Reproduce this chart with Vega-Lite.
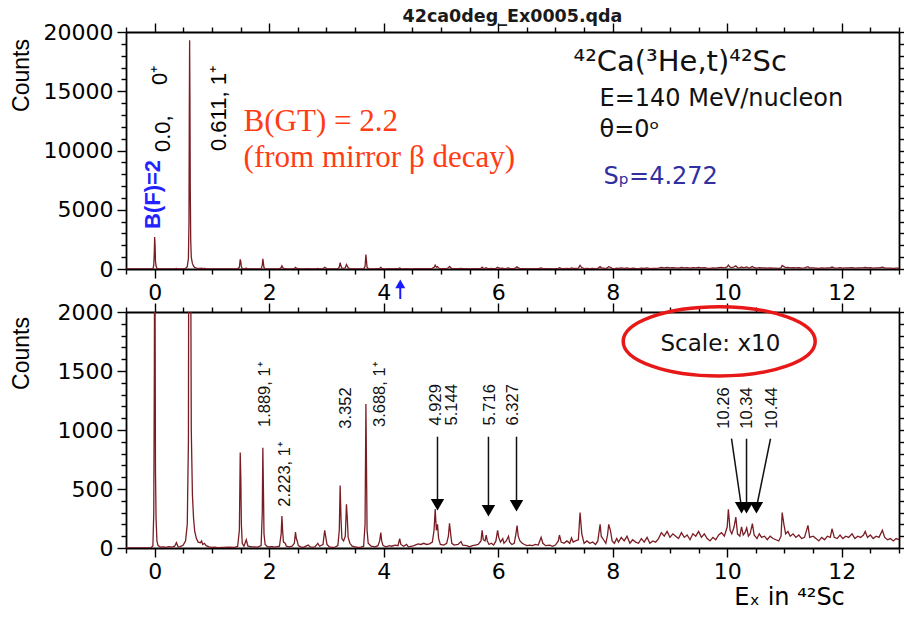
{
"$schema":"https://vega.github.io/schema/vega-lite/v6.json",
"background":"white",
"padding":{"left":10,"top":7,"right":0,"bottom":0},
"config":{"view":{"stroke":null},"axis":{"grid":false,"domainColor":"black","tickColor":"black","labelColor":"black","domainWidth":1.8,"tickWidth":1.4,"labelFont":"DejaVu Sans","labelFontSize":22,"labelOverlap":false,"labelFlush":false,"labelBound":false}},
"spacing":43,
"bounds":"flush",
"datasets":{
"spectrum":[
{"ex":-0.5,"counts":0},{"ex":-0.1,"counts":0},{"ex":-0.06,"counts":2},{"ex":-0.03,"counts":20},{"ex":-0.015,"counts":300},{"ex":-0.005,"counts":1500},{"ex":0,"counts":2700},{"ex":0.008,"counts":2000},{"ex":0.015,"counts":650},{"ex":0.025,"counts":250},{"ex":0.04,"counts":60},{"ex":0.06,"counts":20},{"ex":0.1,"counts":8},{"ex":0.15,"counts":10},{"ex":0.2,"counts":5},{"ex":0.25,"counts":12},{"ex":0.3,"counts":8},{"ex":0.35,"counts":15},{"ex":0.38,"counts":45},{"ex":0.41,"counts":10},{"ex":0.45,"counts":12},{"ex":0.5,"counts":25},{"ex":0.54,"counts":60},{"ex":0.57,"counts":200},{"ex":0.59,"counts":900},{"ex":0.6,"counts":4000},{"ex":0.605,"counts":12000},{"ex":0.611,"counts":19300},{"ex":0.617,"counts":14000},{"ex":0.622,"counts":7000},{"ex":0.63,"counts":2500},{"ex":0.64,"counts":1000},{"ex":0.66,"counts":450},{"ex":0.68,"counts":250},{"ex":0.7,"counts":140},{"ex":0.73,"counts":80},{"ex":0.76,"counts":50},{"ex":0.8,"counts":45},{"ex":0.82,"counts":60},{"ex":0.84,"counts":30},{"ex":0.87,"counts":40},{"ex":0.9,"counts":20},{"ex":0.95,"counts":10},{"ex":1.0,"counts":5},{"ex":1.05,"counts":8},{"ex":1.1,"counts":3},{"ex":1.2,"counts":5},{"ex":1.3,"counts":8},{"ex":1.4,"counts":5},{"ex":1.45,"counts":15},{"ex":1.48,"counts":150},{"ex":1.495,"counts":810},{"ex":1.505,"counts":600},{"ex":1.515,"counts":200},{"ex":1.53,"counts":40},{"ex":1.56,"counts":15},{"ex":1.6,"counts":70},{"ex":1.63,"counts":15},{"ex":1.7,"counts":10},{"ex":1.8,"counts":8},{"ex":1.86,"counts":20},{"ex":1.88,"counts":300},{"ex":1.89,"counts":850},{"ex":1.9,"counts":500},{"ex":1.91,"counts":120},{"ex":1.93,"counts":30},{"ex":1.97,"counts":10},{"ex":2.05,"counts":12},{"ex":2.1,"counts":8},{"ex":2.18,"counts":15},{"ex":2.21,"counts":120},{"ex":2.223,"counts":270},{"ex":2.235,"counts":150},{"ex":2.25,"counts":50},{"ex":2.28,"counts":40},{"ex":2.3,"counts":15},{"ex":2.35,"counts":10},{"ex":2.4,"counts":15},{"ex":2.44,"counts":40},{"ex":2.46,"counts":135},{"ex":2.475,"counts":80},{"ex":2.49,"counts":60},{"ex":2.51,"counts":20},{"ex":2.55,"counts":10},{"ex":2.6,"counts":5},{"ex":2.68,"counts":25},{"ex":2.72,"counts":8},{"ex":2.8,"counts":10},{"ex":2.85,"counts":40},{"ex":2.88,"counts":15},{"ex":2.94,"counts":30},{"ex":2.97,"counts":150},{"ex":2.99,"counts":90},{"ex":3.01,"counts":30},{"ex":3.05,"counts":10},{"ex":3.1,"counts":5},{"ex":3.15,"counts":8},{"ex":3.2,"counts":20},{"ex":3.225,"counts":150},{"ex":3.24,"counts":530},{"ex":3.255,"counts":250},{"ex":3.27,"counts":80},{"ex":3.3,"counts":60},{"ex":3.33,"counts":100},{"ex":3.35,"counts":370},{"ex":3.365,"counts":250},{"ex":3.38,"counts":90},{"ex":3.41,"counts":40},{"ex":3.45,"counts":15},{"ex":3.5,"counts":10},{"ex":3.55,"counts":5},{"ex":3.6,"counts":8},{"ex":3.65,"counts":15},{"ex":3.675,"counts":200},{"ex":3.69,"counts":1220},{"ex":3.7,"counts":700},{"ex":3.71,"counts":150},{"ex":3.73,"counts":40},{"ex":3.78,"counts":15},{"ex":3.85,"counts":10},{"ex":3.9,"counts":20},{"ex":3.93,"counts":60},{"ex":3.95,"counts":130},{"ex":3.965,"counts":60},{"ex":3.99,"counts":20},{"ex":4.04,"counts":10},{"ex":4.1,"counts":20},{"ex":4.14,"counts":15},{"ex":4.2,"counts":25},{"ex":4.25,"counts":20},{"ex":4.28,"counts":80},{"ex":4.3,"counts":30},{"ex":4.35,"counts":15},{"ex":4.4,"counts":30},{"ex":4.43,"counts":10},{"ex":4.5,"counts":15},{"ex":4.55,"counts":25},{"ex":4.6,"counts":35},{"ex":4.65,"counts":30},{"ex":4.7,"counts":40},{"ex":4.75,"counts":30},{"ex":4.8,"counts":35},{"ex":4.85,"counts":50},{"ex":4.88,"counts":150},{"ex":4.9,"counts":330},{"ex":4.92,"counts":150},{"ex":4.94,"counts":200},{"ex":4.96,"counts":80},{"ex":4.99,"counts":30},{"ex":5.05,"counts":25},{"ex":5.1,"counts":40},{"ex":5.13,"counts":100},{"ex":5.15,"counts":210},{"ex":5.17,"counts":120},{"ex":5.19,"counts":40},{"ex":5.23,"counts":25},{"ex":5.3,"counts":30},{"ex":5.35,"counts":55},{"ex":5.38,"counts":25},{"ex":5.45,"counts":20},{"ex":5.5,"counts":10},{"ex":5.55,"counts":20},{"ex":5.6,"counts":25},{"ex":5.65,"counts":30},{"ex":5.7,"counts":60},{"ex":5.72,"counts":150},{"ex":5.74,"counts":70},{"ex":5.77,"counts":60},{"ex":5.79,"counts":110},{"ex":5.81,"counts":60},{"ex":5.84,"counts":30},{"ex":5.88,"counts":40},{"ex":5.92,"counts":25},{"ex":5.96,"counts":60},{"ex":5.99,"counts":150},{"ex":6.01,"counts":90},{"ex":6.04,"counts":50},{"ex":6.08,"counts":80},{"ex":6.1,"counts":40},{"ex":6.14,"counts":60},{"ex":6.18,"counts":100},{"ex":6.2,"counts":50},{"ex":6.24,"counts":30},{"ex":6.28,"counts":40},{"ex":6.31,"counts":120},{"ex":6.33,"counts":190},{"ex":6.35,"counts":100},{"ex":6.38,"counts":60},{"ex":6.42,"counts":40},{"ex":6.46,"counts":30},{"ex":6.5,"counts":20},{"ex":6.55,"counts":25},{"ex":6.6,"counts":20},{"ex":6.65,"counts":30},{"ex":6.7,"counts":25},{"ex":6.75,"counts":90},{"ex":6.78,"counts":40},{"ex":6.83,"counts":20},{"ex":6.9,"counts":25},{"ex":6.95,"counts":15},{"ex":7.0,"counts":25},{"ex":7.05,"counts":60},{"ex":7.07,"counts":110},{"ex":7.1,"counts":50},{"ex":7.15,"counts":40},{"ex":7.2,"counts":60},{"ex":7.25,"counts":40},{"ex":7.28,"counts":85},{"ex":7.31,"counts":50},{"ex":7.35,"counts":60},{"ex":7.4,"counts":70},{"ex":7.43,"counts":300},{"ex":7.46,"counts":120},{"ex":7.5,"counts":40},{"ex":7.55,"counts":60},{"ex":7.6,"counts":40},{"ex":7.65,"counts":50},{"ex":7.7,"counts":30},{"ex":7.74,"counts":60},{"ex":7.78,"counts":200},{"ex":7.8,"counts":100},{"ex":7.84,"counts":70},{"ex":7.88,"counts":40},{"ex":7.91,"counts":110},{"ex":7.93,"counts":200},{"ex":7.96,"counts":150},{"ex":7.99,"counts":60},{"ex":8.03,"counts":40},{"ex":8.07,"counts":80},{"ex":8.1,"counts":50},{"ex":8.15,"counts":90},{"ex":8.2,"counts":60},{"ex":8.25,"counts":100},{"ex":8.3,"counts":40},{"ex":8.35,"counts":70},{"ex":8.4,"counts":50},{"ex":8.45,"counts":40},{"ex":8.5,"counts":80},{"ex":8.55,"counts":50},{"ex":8.6,"counts":90},{"ex":8.65,"counts":40},{"ex":8.7,"counts":60},{"ex":8.75,"counts":50},{"ex":8.8,"counts":80},{"ex":8.85,"counts":130},{"ex":8.9,"counts":100},{"ex":8.95,"counts":140},{"ex":9.0,"counts":90},{"ex":9.05,"counts":120},{"ex":9.1,"counts":100},{"ex":9.15,"counts":80},{"ex":9.2,"counts":130},{"ex":9.25,"counts":90},{"ex":9.3,"counts":110},{"ex":9.35,"counts":70},{"ex":9.4,"counts":120},{"ex":9.45,"counts":100},{"ex":9.5,"counts":140},{"ex":9.55,"counts":90},{"ex":9.6,"counts":120},{"ex":9.65,"counts":80},{"ex":9.7,"counts":60},{"ex":9.75,"counts":90},{"ex":9.8,"counts":70},{"ex":9.85,"counts":110},{"ex":9.9,"counts":130},{"ex":9.95,"counts":100},{"ex":10.0,"counts":180},{"ex":10.02,"counts":327},{"ex":10.05,"counts":150},{"ex":10.08,"counts":120},{"ex":10.12,"counts":180},{"ex":10.15,"counts":262},{"ex":10.18,"counts":120},{"ex":10.22,"counts":100},{"ex":10.25,"counts":180},{"ex":10.28,"counts":110},{"ex":10.31,"counts":130},{"ex":10.34,"counts":170},{"ex":10.37,"counts":100},{"ex":10.4,"counts":120},{"ex":10.44,"counts":206},{"ex":10.47,"counts":110},{"ex":10.52,"counts":80},{"ex":10.56,"counts":120},{"ex":10.6,"counts":90},{"ex":10.65,"counts":100},{"ex":10.7,"counts":70},{"ex":10.75,"counts":100},{"ex":10.8,"counts":80},{"ex":10.85,"counts":70},{"ex":10.9,"counts":60},{"ex":10.94,"counts":100},{"ex":10.96,"counts":300},{"ex":10.99,"counts":200},{"ex":11.02,"counts":120},{"ex":11.06,"counts":140},{"ex":11.1,"counts":100},{"ex":11.15,"counts":120},{"ex":11.2,"counts":90},{"ex":11.25,"counts":110},{"ex":11.3,"counts":80},{"ex":11.35,"counts":90},{"ex":11.41,"counts":192},{"ex":11.44,"counts":90},{"ex":11.5,"counts":100},{"ex":11.55,"counts":80},{"ex":11.6,"counts":60},{"ex":11.65,"counts":90},{"ex":11.7,"counts":70},{"ex":11.75,"counts":100},{"ex":11.8,"counts":90},{"ex":11.83,"counts":163},{"ex":11.87,"counts":90},{"ex":11.92,"counts":80},{"ex":11.97,"counts":110},{"ex":12.02,"counts":80},{"ex":12.07,"counts":100},{"ex":12.12,"counts":90},{"ex":12.18,"counts":120},{"ex":12.23,"counts":80},{"ex":12.28,"counts":100},{"ex":12.33,"counts":90},{"ex":12.38,"counts":110},{"ex":12.41,"counts":140},{"ex":12.45,"counts":90},{"ex":12.5,"counts":110},{"ex":12.55,"counts":80},{"ex":12.6,"counts":100},{"ex":12.65,"counts":90},{"ex":12.71,"counts":150},{"ex":12.75,"counts":90},{"ex":12.8,"counts":70},{"ex":12.85,"counts":80},{"ex":12.9,"counts":60},{"ex":12.95,"counts":80},{"ex":13.0,"counts":70}
],
"topVertical":[{"ex":0.14,"counts":9873,"label":"0.0,"},{"ex":0.10,"counts":15527,"label":"0⁺"},{"ex":1.12,"counts":9958,"label":"0.611, 1⁺"}],
"topBlue":[{"ex":-0.035,"counts":3375,"label":"B(F)=2"}],
"topRed":[{"ex":1.554,"counts":11646,"label":"B(GT) = 2.2"},{"ex":1.554,"counts":8608,"label":"(from mirror β decay)"}],
"topReaction":[{"ex":7.316,"counts":16709,"label":"⁴²Ca(³He,t)⁴²Sc"}],
"topInfo":[{"ex":7.77,"counts":13755,"label":"E=140 MeV/nucleon"},{"ex":7.77,"counts":11139,"label":"θ=0ᵒ"}],
"topSp":[{"ex":7.84,"counts":7173,"label":"Sₚ=4.272"}],
"spArrow":[{"ex":4.29,"counts":-1250,"counts2":-2530}],
"bottomVertical":[{"ex":1.92,"counts":1025,"label":"1.889, 1⁺"},{"ex":2.27,"counts":350,"label":"2.223, 1⁺"},{"ex":3.35,"counts":1011,"label":"3.352"},{"ex":3.93,"counts":1025,"label":"3.688, 1⁺"},{"ex":4.92,"counts":1039,"label":"4.929"},{"ex":5.2,"counts":1039,"label":"5.144"},{"ex":5.85,"counts":1039,"label":"5.716"},{"ex":6.25,"counts":1039,"label":"6.327"},{"ex":9.95,"counts":1011,"label":"10.26"},{"ex":10.34,"counts":1011,"label":"10.34"},{"ex":10.79,"counts":1011,"label":"10.44"}],
"bottomArrows":[{"ex":4.94,"counts":943,"ex2":4.94,"counts2":367},{"ex":5.83,"counts":943,"ex2":5.83,"counts2":316},{"ex":6.32,"counts":943,"ex2":6.32,"counts2":358},{"ex":10.075,"counts":926,"ex2":10.25,"counts2":341},{"ex":10.337,"counts":926,"ex2":10.337,"counts2":341},{"ex":10.756,"counts":926,"ex2":10.51,"counts2":341}],
"scaleNote":[{"ex":9.88,"counts":1672,"label":"Scale: x10"}],
"ellipse":[{"ex":9.86,"counts":1751}]
},
"vconcat":[
{
"width":773,"height":237,
"title":{"text":"42ca0deg_Ex0005.qda","font":"DejaVu Sans","fontSize":17.5,"fontWeight":"bold","color":"#1a1a1a","anchor":"middle","offset":-4},
"layer":[
{"data":{"name":"spectrum"},"mark":{"type":"line","color":"#7a1c24","strokeWidth":1.3,"clip":true},
"encoding":{
"x":{"field":"ex","type":"quantitative","scale":{"domain":[-0.5,13],"nice":false,"zero":false},
"axis":{"orient":"bottom","values":[-0.5,0,0.5,1,1.5,2,2.5,3,3.5,4,4.5,5,5.5,6,6.5,7,7.5,8,8.5,9,9.5,10,10.5,11,11.5,12,12.5,13],"labels":true,"labelOverlap":false,"labelFlush":false,"labelBound":false,"labelAngle":0,"labelExpr":"abs(datum.value % 2) < 0.001 ? '' + round(datum.value) : ''","tickSize":{"condition":{"test":"abs(datum.value % 2) < 0.001","value":9},"value":5},"labelPadding":4,"title":null}},
"y":{"field":"counts","type":"quantitative","scale":{"domain":[0,20000],"nice":false},
"axis":{"orient":"left","values":[0,1000,2000,3000,4000,5000,6000,7000,8000,9000,10000,11000,12000,13000,14000,15000,16000,17000,18000,19000,20000],"format":"d","labelExpr":"datum.value % 5000 === 0 ? datum.label : ''","tickSize":{"condition":{"test":"datum.value % 5000 === 0","value":9},"value":5},"labelPadding":4,"title":"Counts","titleFont":"Liberation Sans","titleFontSize":23,"titleFontWeight":"normal","titleColor":"black","titleAngle":270,"titleX":-105,"titleY":43,"titleAlign":"center","titleBaseline":"middle"}}}},
{"data":{"name":"topVertical"},"mark":{"type":"text","angle":270,"align":"left","baseline":"middle","font":"Liberation Sans","fontSize":22,"color":"black"},
"encoding":{
"x":{"field":"ex","type":"quantitative","scale":{"domain":[-0.5,13],"nice":false,"zero":false},
"axis":{"orient":"top","values":[-0.5,0,0.5,1,1.5,2,2.5,3,3.5,4,4.5,5,5.5,6,6.5,7,7.5,8,8.5,9,9.5,10,10.5,11,11.5,12,12.5,13],"labels":false,"tickSize":{"condition":{"test":"abs(datum.value % 2) < 0.001","value":9},"value":5},"title":null}},
"y":{"field":"counts","type":"quantitative","scale":{"domain":[0,20000],"nice":false},
"axis":{"orient":"right","values":[0,1000,2000,3000,4000,5000,6000,7000,8000,9000,10000,11000,12000,13000,14000,15000,16000,17000,18000,19000,20000],"labels":false,"tickSize":{"condition":{"test":"datum.value % 5000 === 0","value":9},"value":5},"title":null}},
"text":{"field":"label"}}},
{"data":{"name":"topBlue"},"mark":{"type":"text","angle":270,"align":"left","baseline":"middle","font":"Liberation Sans","fontSize":22,"fontWeight":"bold","color":"#2222ff"},
"encoding":{"x":{"field":"ex","type":"quantitative","axis":null},"y":{"field":"counts","type":"quantitative","axis":null},"text":{"field":"label"}}},
{"data":{"name":"topRed"},"mark":{"type":"text","align":"left","baseline":"alphabetic","font":"Liberation Serif","fontSize":31,"color":"#ff3c14"},
"encoding":{"x":{"field":"ex","type":"quantitative","axis":null},"y":{"field":"counts","type":"quantitative","axis":null},"text":{"field":"label"}}},
{"data":{"name":"topReaction"},"mark":{"type":"text","align":"left","baseline":"alphabetic","font":"DejaVu Sans","fontSize":29,"color":"#111111"},
"encoding":{"x":{"field":"ex","type":"quantitative","axis":null},"y":{"field":"counts","type":"quantitative","axis":null},"text":{"field":"label"}}},
{"data":{"name":"topInfo"},"mark":{"type":"text","align":"left","baseline":"alphabetic","font":"DejaVu Sans","fontSize":24,"color":"#111111"},
"encoding":{"x":{"field":"ex","type":"quantitative","axis":null},"y":{"field":"counts","type":"quantitative","axis":null},"text":{"field":"label"}}},
{"data":{"name":"topSp"},"mark":{"type":"text","align":"left","baseline":"alphabetic","font":"DejaVu Sans","fontSize":24,"color":"#3030a0"},
"encoding":{"x":{"field":"ex","type":"quantitative","axis":null},"y":{"field":"counts","type":"quantitative","axis":null},"text":{"field":"label"}}},
{"data":{"name":"spArrow"},"mark":{"type":"rule","color":"#1a1aff","strokeWidth":2},
"encoding":{"x":{"field":"ex","type":"quantitative","axis":null},"y":{"field":"counts","type":"quantitative","axis":null},"y2":{"field":"counts2"}}},
{"data":{"name":"spArrow"},"mark":{"type":"point","shape":"triangle-up","filled":true,"size":100,"opacity":1,"color":"#1a1aff"},
"encoding":{"x":{"field":"ex","type":"quantitative","axis":null},"y":{"field":"counts","type":"quantitative","axis":null}}}
],
"resolve":{"axis":{"x":"independent","y":"independent"}}
},
{
"width":773,"height":236,
"layer":[
{"data":{"name":"spectrum"},"mark":{"type":"line","color":"#7a1c24","strokeWidth":1.3,"clip":true},
"encoding":{
"x":{"field":"ex","type":"quantitative","scale":{"domain":[-0.5,13],"nice":false,"zero":false},
"axis":{"orient":"bottom","values":[-0.5,0,0.5,1,1.5,2,2.5,3,3.5,4,4.5,5,5.5,6,6.5,7,7.5,8,8.5,9,9.5,10,10.5,11,11.5,12,12.5,13],"labels":true,"labelOverlap":false,"labelFlush":false,"labelBound":false,"labelAngle":0,"labelExpr":"abs(datum.value % 2) < 0.001 ? '' + round(datum.value) : ''","tickSize":{"condition":{"test":"abs(datum.value % 2) < 0.001","value":9},"value":5},"labelPadding":4,"title":"Eₓ in ⁴²Sc","titleFont":"DejaVu Sans","titleFontSize":24,"titleFontWeight":"normal","titleColor":"black","titleX":663,"titleY":56,"titleAlign":"center","titleBaseline":"alphabetic"}},
"y":{"field":"counts","type":"quantitative","scale":{"domain":[0,2000],"nice":false},
"axis":{"orient":"left","values":[0,100,200,300,400,500,600,700,800,900,1000,1100,1200,1300,1400,1500,1600,1700,1800,1900,2000],"format":"d","labelExpr":"datum.value % 500 === 0 ? datum.label : ''","tickSize":{"condition":{"test":"datum.value % 500 === 0","value":9},"value":5},"labelPadding":4,"title":"Counts","titleFont":"Liberation Sans","titleFontSize":23,"titleFontWeight":"normal","titleColor":"black","titleAngle":270,"titleX":-105,"titleY":41,"titleAlign":"center","titleBaseline":"middle"}}}},
{"data":{"name":"bottomVertical"},"mark":{"type":"text","angle":270,"align":"left","baseline":"middle","font":"Liberation Sans","fontSize":16.5,"color":"#111111"},
"encoding":{
"x":{"field":"ex","type":"quantitative","scale":{"domain":[-0.5,13],"nice":false,"zero":false},
"axis":{"orient":"top","values":[-0.5,0,0.5,1,1.5,2,2.5,3,3.5,4,4.5,5,5.5,6,6.5,7,7.5,8,8.5,9,9.5,10,10.5,11,11.5,12,12.5,13],"labels":false,"tickSize":{"condition":{"test":"abs(datum.value % 2) < 0.001","value":9},"value":5},"title":null}},
"y":{"field":"counts","type":"quantitative","scale":{"domain":[0,2000],"nice":false},
"axis":{"orient":"right","values":[0,100,200,300,400,500,600,700,800,900,1000,1100,1200,1300,1400,1500,1600,1700,1800,1900,2000],"labels":false,"tickSize":{"condition":{"test":"datum.value % 500 === 0","value":9},"value":5},"title":null}},
"text":{"field":"label"}}},
{"data":{"name":"bottomArrows"},"mark":{"type":"rule","color":"#111111","strokeWidth":1.5},
"encoding":{"x":{"field":"ex","type":"quantitative","axis":null},"y":{"field":"counts","type":"quantitative","axis":null},"x2":{"field":"ex2"},"y2":{"field":"counts2"}}},
{"data":{"name":"bottomArrows"},"mark":{"type":"point","shape":"triangle-down","filled":true,"size":180,"opacity":1,"color":"#000000"},
"encoding":{"x":{"field":"ex2","type":"quantitative","axis":null},"y":{"field":"counts2","type":"quantitative","axis":null}}},
{"data":{"name":"scaleNote"},"mark":{"type":"text","align":"center","baseline":"alphabetic","font":"DejaVu Sans","fontSize":23,"color":"#111111"},
"encoding":{"x":{"field":"ex","type":"quantitative","axis":null},"y":{"field":"counts","type":"quantitative","axis":null},"text":{"field":"label"}}},
{"data":{"name":"ellipse"},"mark":{"type":"point","shape":"M-1,0A1,0.36,0,1,1,1,0A1,0.36,0,1,1,-1,0Z","size":36864,"filled":false,"opacity":1,"stroke":"#e81818","strokeWidth":3.5},
"encoding":{"x":{"field":"ex","type":"quantitative","axis":null},"y":{"field":"counts","type":"quantitative","axis":null}}}
],
"resolve":{"axis":{"x":"independent","y":"independent"}}
}
]
}
